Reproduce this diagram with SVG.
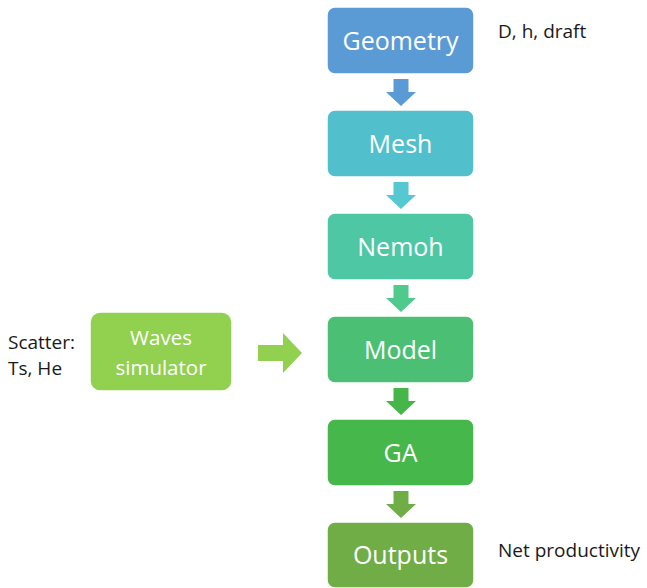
<svg xmlns="http://www.w3.org/2000/svg" width="647" height="588" viewBox="0 0 647 588">
<style>
.box{stroke:#ffffff;stroke-width:1.5}
.lbl{font-family:"Open Sans","Liberation Sans",sans-serif;font-size:25px;fill:#ffffff;text-anchor:middle}
.lbl2{font-family:"Open Sans","Liberation Sans",sans-serif;font-size:20.5px;fill:#ffffff;text-anchor:middle}
.note{font-family:"Open Sans","Liberation Sans",sans-serif;font-size:19px;fill:#1a1a1a}
</style>
<defs>
<path id="darrow" d="M-7.5,0 H7.5 V13 H15 L0,27 L-15,13 H-7.5 Z"/>
</defs>
<rect width="647" height="588" fill="#ffffff"/>
<g id="connectors">
<use href="#darrow" x="401" y="79" fill="#5B9BD5"/>
<use href="#darrow" x="401" y="182" fill="#55C8D2"/>
<use href="#darrow" x="401" y="285" fill="#4FC98C"/>
<use href="#darrow" x="401" y="388" fill="#46B64A"/>
<use href="#darrow" x="401" y="491" fill="#6FAD47"/>
<path d="M258,345 H283 V333 L302,353 L283,373 V361 H258 Z" fill="#92D050"/>
</g>
<g id="geometry">
<rect class="box" x="327" y="7" width="147" height="67" rx="8" fill="#5B9BD5"/>
<text class="lbl" x="400.5" y="49.5">Geometry</text>
</g>
<g id="mesh">
<rect class="box" x="327" y="110" width="147" height="67" rx="8" fill="#52BFCC"/>
<text class="lbl" x="400.5" y="152.5">Mesh</text>
</g>
<g id="nemoh">
<rect class="box" x="327" y="213" width="147" height="67" rx="8" fill="#4EC7A5"/>
<text class="lbl" x="400.5" y="255.5">Nemoh</text>
</g>
<g id="model">
<rect class="box" x="327" y="316" width="147" height="67" rx="8" fill="#4BC074"/>
<text class="lbl" x="400.5" y="358.5">Model</text>
</g>
<g id="ga">
<rect class="box" x="327" y="419" width="147" height="67" rx="8" fill="#46B74A"/>
<text class="lbl" x="400.5" y="461.5">GA</text>
</g>
<g id="outputs">
<rect class="box" x="327" y="522" width="147" height="66" rx="8" fill="#70AD47"/>
<text class="lbl" x="400.5" y="564">Outputs</text>
</g>
<g id="waves">
<rect class="box" x="90" y="312" width="142" height="79" rx="10" fill="#92D050"/>
<text class="lbl2" x="161" y="345">Waves</text>
<text class="lbl2" x="161" y="375">simulator</text>
</g>
<g id="notes">
<text class="note" x="498" y="38">D, h, draft</text>
<text class="note" x="498" y="557">Net productivity</text>
<text class="note" x="8" y="349">Scatter:</text>
<text class="note" x="8" y="375">Ts, He</text>
</g>
</svg>
